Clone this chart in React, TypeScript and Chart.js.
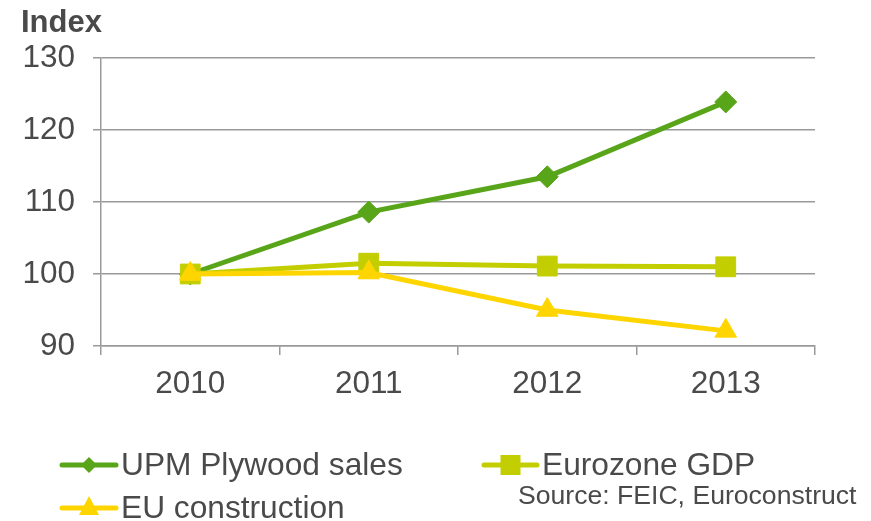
import React, { useEffect, useRef } from "react";
import { Chart, registerables } from "chart.js";

Chart.register(...registerables);

const categories = ["2010", "2011", "2012", "2013"];
const upmPlywood = [100, 108.6, 113.5, 123.9];
const eurozoneGdp = [100, 101.5, 101.1, 101.0];
const euConstruction = [100, 100.2, 95.0, 92.1];
const yTicks = [90, 100, 110, 120, 130];

const GREEN = "#58A519";
const LIME = "#C3CE00";
const YELLOW = "#FFD500";
const GRID = "#9A9A9A";
const TEXT = "#4A4A4A";
const FONT = "'Liberation Sans', Arial, sans-serif";

const legendPlugin = {
  id: "customLegend",
  afterDraw(chart: any) {
    const ctx = chart.ctx;
    ctx.save();
    ctx.fillStyle = TEXT;
    ctx.font = `bold 31px ${FONT}`;
    ctx.textAlign = "left";
    ctx.textBaseline = "alphabetic";
    ctx.fillText("Index", 21, 32);

    const drawSample = (x1: number, x2: number, y: number, color: string, shape: string) => {
      ctx.strokeStyle = color;
      ctx.fillStyle = color;
      ctx.lineWidth = 5;
      ctx.lineCap = "round";
      ctx.beginPath();
      ctx.moveTo(x1, y);
      ctx.lineTo(x2, y);
      ctx.stroke();
      const cx = (x1 + x2) / 2;
      ctx.beginPath();
      if (shape === "diamond") {
        const r = 8;
        ctx.moveTo(cx, y - r);
        ctx.lineTo(cx + r, y);
        ctx.lineTo(cx, y + r);
        ctx.lineTo(cx - r, y);
        ctx.closePath();
      } else if (shape === "square") {
        ctx.rect(cx - 10, y - 10, 20, 20);
      } else {
        ctx.moveTo(cx, y - 12);
        ctx.lineTo(cx + 10, y + 7);
        ctx.lineTo(cx - 10, y + 7);
        ctx.closePath();
      }
      ctx.fill();
    };

    drawSample(62, 116, 465, GREEN, "diamond");
    drawSample(484, 537, 465, LIME, "square");
    drawSample(62, 116, 508, YELLOW, "triangle");

    ctx.fillStyle = TEXT;
    ctx.font = `31.7px ${FONT}`;
    ctx.textBaseline = "middle";
    ctx.fillText("UPM Plywood sales", 121, 466);
    ctx.fillText("Eurozone GDP", 542, 466);
    ctx.fillText("EU construction", 121, 509);
    ctx.font = `26.6px ${FONT}`;
    ctx.fillText("Source: FEIC, Euroconstruct", 518, 497);
    ctx.restore();
  },
};

export default function App() {
  const ref = useRef<HTMLCanvasElement | null>(null);

  useEffect(() => {
    document.body.style.margin = "0";
    if (!ref.current) return;
    const chart = new Chart(ref.current, {
      type: "line",
      data: {
        labels: categories,
        datasets: [
          {
            label: "UPM Plywood sales",
            data: upmPlywood,
            borderColor: GREEN,
            backgroundColor: GREEN,
            borderWidth: 5,
            pointStyle: "rectRot",
            pointRadius: 11,
            pointBorderWidth: 1,
            order: 2,
          },
          {
            label: "Eurozone GDP",
            data: eurozoneGdp,
            borderColor: LIME,
            backgroundColor: LIME,
            borderWidth: 5,
            pointStyle: "rect",
            pointRadius: 14,
            pointBorderWidth: 1,
            order: 1,
          },
          {
            label: "EU construction",
            data: euConstruction,
            borderColor: YELLOW,
            backgroundColor: YELLOW,
            borderWidth: 5,
            pointStyle: "triangle",
            pointRadius: 12.5,
            pointBorderWidth: 1,
            order: 0,
          },
        ],
      },
      options: {
        responsive: false,
        animation: false,
        layout: { padding: { left: 0, right: 56, top: 58, bottom: 0 } },
        plugins: {
          legend: { display: false },
          title: { display: false },
          tooltip: { enabled: false },
        },
        scales: {
          x: {
            type: "category",
            offset: true,
            grid: {
              display: true,
              drawOnChartArea: false,
              offset: true,
              tickLength: 9,
              color: GRID,
              lineWidth: 1.5,
            },
            border: { display: true, color: GRID, width: 1.5 },
            ticks: {
              color: TEXT,
              font: { family: FONT, size: 31.5 },
              padding: 10,
              maxRotation: 0,
            },
            afterFit: (scale: any) => {
              scale.height = 175;
            },
          },
          y: {
            min: 90,
            max: 130,
            afterBuildTicks: (scale: any) => {
              scale.ticks = yTicks.map((v) => ({ value: v }));
            },
            grid: {
              color: GRID,
              lineWidth: 1.5,
              tickLength: 8,
            },
            border: { display: true, color: GRID, width: 1.5 },
            ticks: {
              color: TEXT,
              font: { family: FONT, size: 31.5 },
              padding: 18,
            },
            afterFit: (scale: any) => {
              scale.width = 101;
            },
          },
        },
      },
      plugins: [legendPlugin],
    });
    return () => chart.destroy();
  }, []);

  return (
    <div style={{ width: 871, height: 521 }}>
      <canvas ref={ref} width={871} height={521} />
    </div>
  );
}
